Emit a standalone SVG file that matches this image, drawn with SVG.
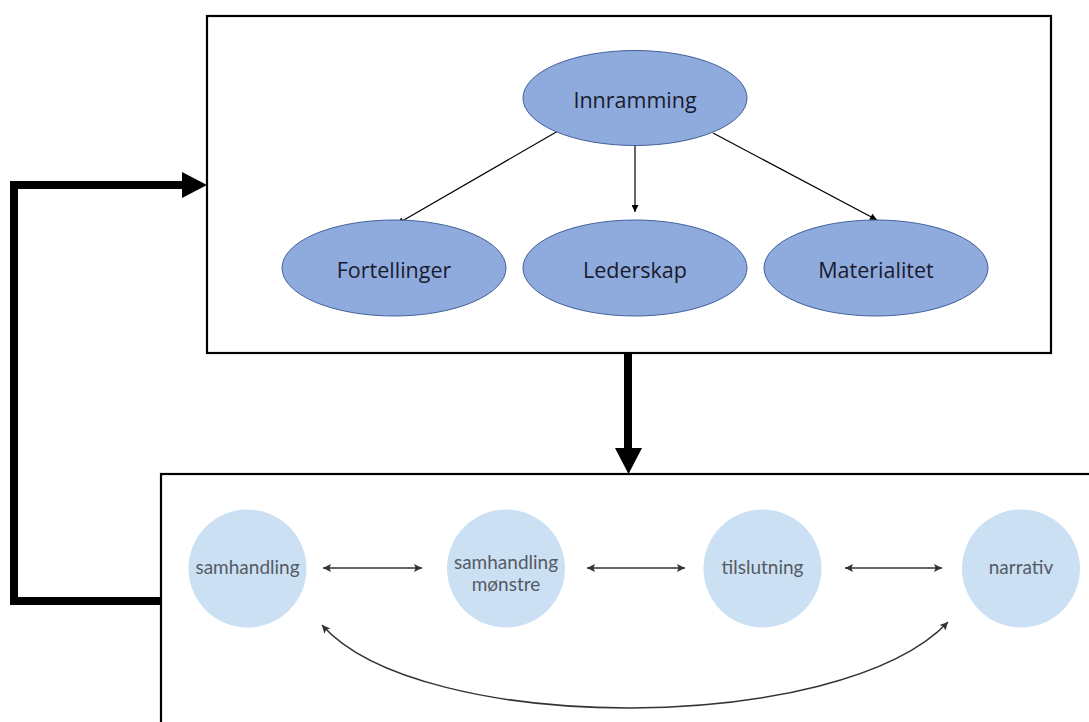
<svg xmlns="http://www.w3.org/2000/svg" width="1089" height="722" viewBox="0 0 1089 722">
<style>
.box{fill:#fff;stroke:#000;stroke-width:2.2}
.ell{fill:#8FAADC;stroke:#41609C;stroke-width:1}
.etxt{font-family:"Open Sans","Liberation Sans",sans-serif;font-size:21.5px;fill:#1a1a2e;text-anchor:middle;dominant-baseline:central}
.circ{fill:#CCE0F4}
.ctxt{font-family:Lato,"Liberation Sans",sans-serif;font-size:19px;fill:#555b63;text-anchor:middle;dominant-baseline:central}
.thin{stroke:#000;stroke-width:1.2;fill:none}
.dbl{stroke:#333;stroke-width:1.5;fill:none}
.thick{stroke:#000;stroke-width:8;fill:none}
</style>
<defs>
<marker id="ah" viewBox="0 0 10 10" refX="10" refY="5" markerWidth="8" markerHeight="7" markerUnits="userSpaceOnUse" orient="auto"><path d="M0,0 L10,5 L0,10 z" fill="#000"/></marker>
<marker id="dh" viewBox="0 0 10 10" refX="10" refY="5" markerWidth="9" markerHeight="8" markerUnits="userSpaceOnUse" orient="auto-start-reverse"><path d="M0,0 L10,5 L0,10 L2,5 z" fill="#333"/></marker>
</defs>
<rect width="1089" height="722" fill="#fff"/>
<g id="frame-top"><rect class="box" x="207" y="16" width="844" height="337"/></g>
<g id="frame-bottom"><rect class="box" x="161" y="474" width="940" height="260"/></g>
<g id="connectors">
<line class="thin" x1="558" y1="131" x2="397" y2="224" marker-end="url(#ah)"/>
<line class="thin" x1="635" y1="146" x2="635" y2="212" marker-end="url(#ah)"/>
<line class="thin" x1="713" y1="133" x2="877" y2="220" marker-end="url(#ah)"/>
<line class="dbl" x1="323" y1="568" x2="422" y2="568" marker-start="url(#dh)" marker-end="url(#dh)"/>
<line class="dbl" x1="587" y1="568" x2="685" y2="568" marker-start="url(#dh)" marker-end="url(#dh)"/>
<line class="dbl" x1="845" y1="568" x2="942" y2="568" marker-start="url(#dh)" marker-end="url(#dh)"/>
<path class="dbl" d="M322,625 C420,736 840,736 948,622" marker-start="url(#dh)" marker-end="url(#dh)"/>
<path class="thick" d="M161,601 L14,601 L14,185 L184,185"/>
<path d="M182,172 L207,185 L182,198 z" fill="#000"/>
<line class="thick" x1="628" y1="353" x2="628" y2="450" stroke-width="9"/>
<path d="M615,448 L642,448 L628.5,474 z" fill="#000"/>
</g>
<g id="innramming"><ellipse class="ell" cx="635" cy="98" rx="112" ry="47.5"/><text class="etxt" x="635" y="99">Innramming</text></g>
<g id="fortellinger"><ellipse class="ell" cx="394" cy="268" rx="112" ry="48"/><text class="etxt" x="394" y="269">Fortellinger</text></g>
<g id="lederskap"><ellipse class="ell" cx="635" cy="268" rx="112" ry="48"/><text class="etxt" x="635" y="269">Lederskap</text></g>
<g id="materialitet"><ellipse class="ell" cx="876" cy="268" rx="112" ry="48"/><text class="etxt" x="876" y="269">Materialitet</text></g>
<g id="samhandling"><circle class="circ" cx="247.5" cy="568.5" r="59"/><text class="ctxt" x="247.5" y="566">samhandling</text></g>
<g id="samhandling-monstre"><circle class="circ" cx="506" cy="568.5" r="59"/><text class="ctxt" x="506" y="561">samhandling</text><text class="ctxt" x="506" y="583">mønstre</text></g>
<g id="tilslutning"><circle class="circ" cx="762.5" cy="568.5" r="59"/><text class="ctxt" x="762.5" y="566">tilslutning</text></g>
<g id="narrativ"><circle class="circ" cx="1021" cy="568.5" r="59"/><text class="ctxt" x="1021" y="566">narrativ</text></g>
</svg>
